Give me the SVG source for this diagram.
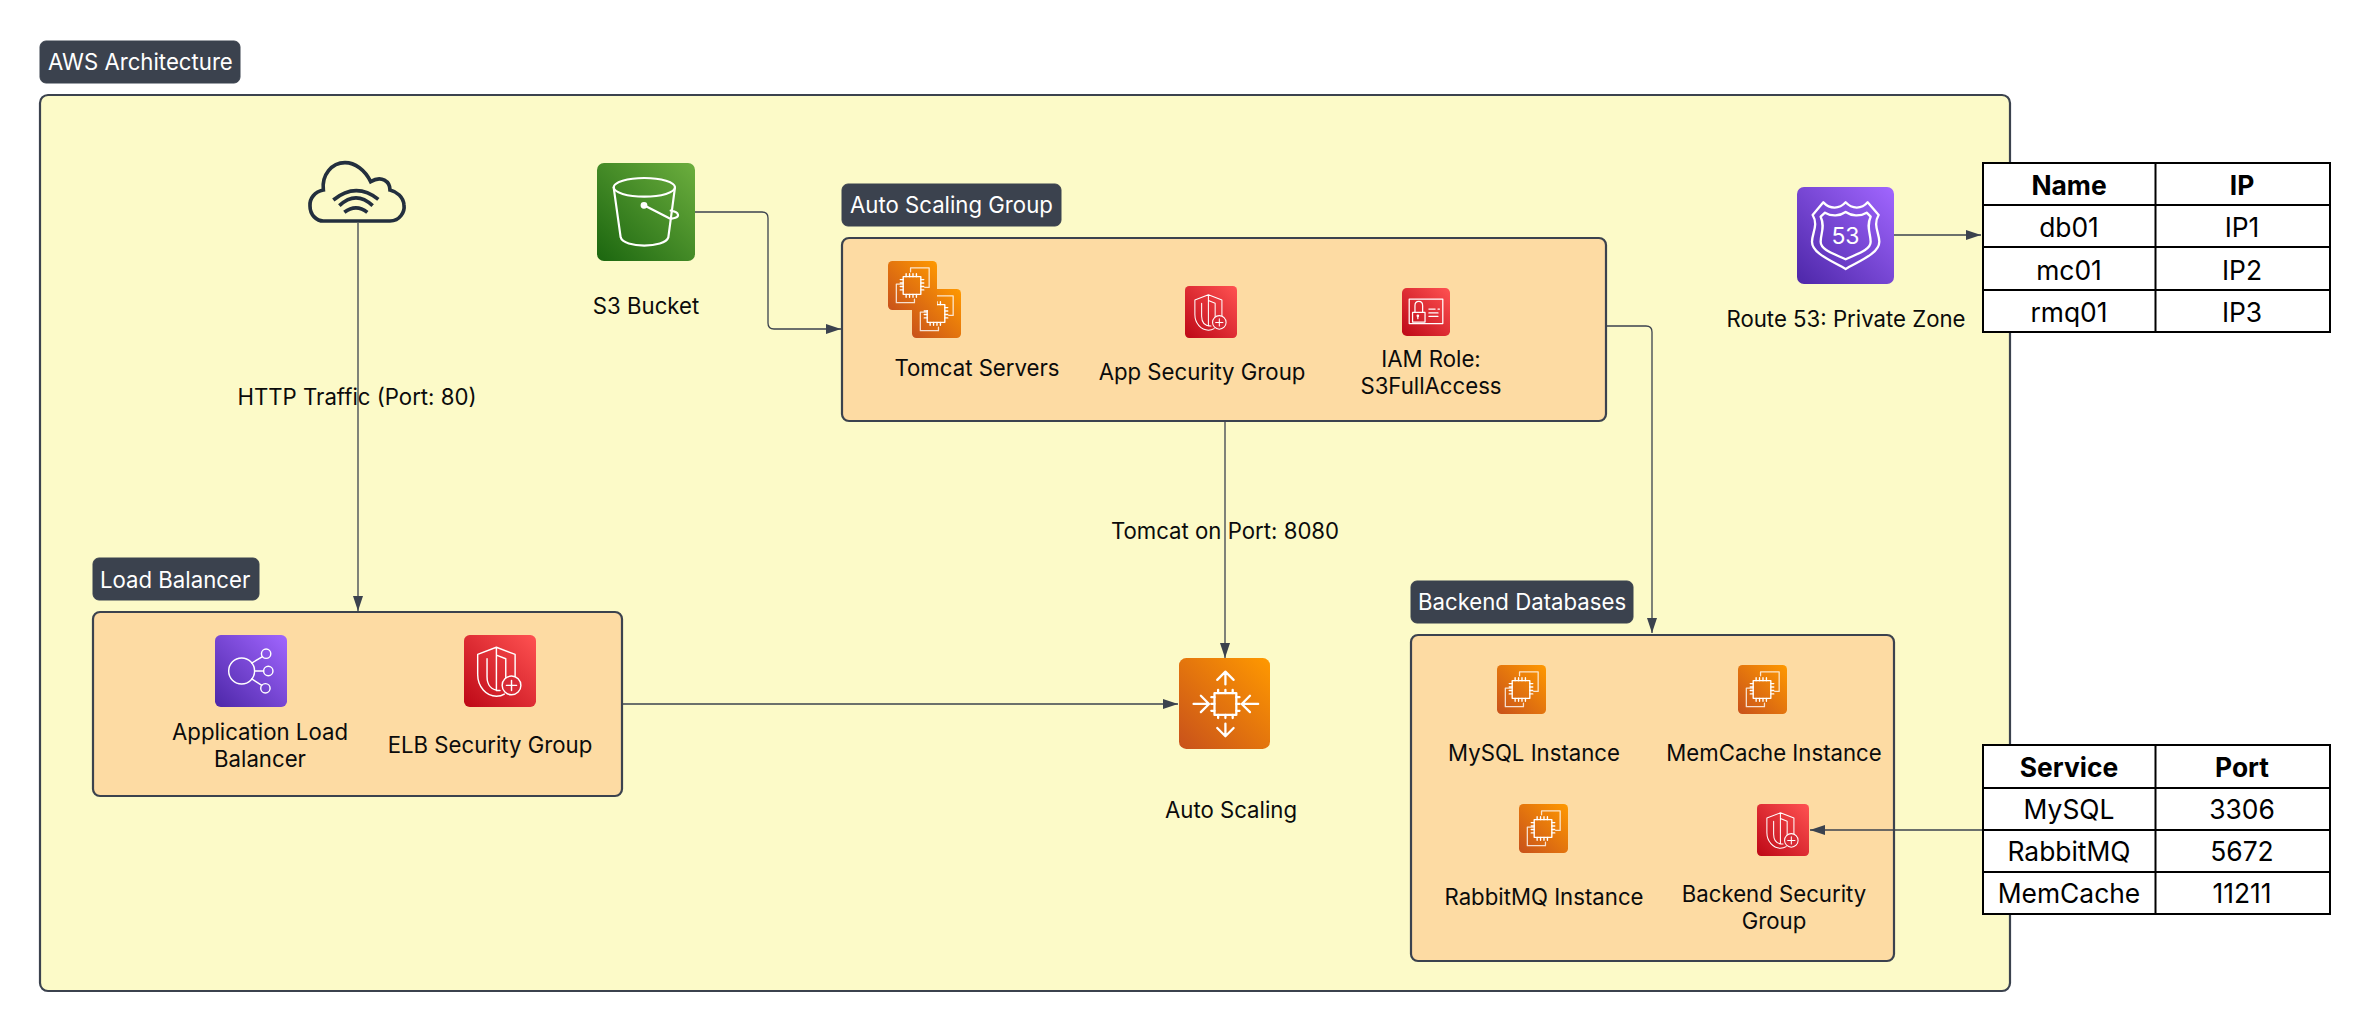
<svg xmlns="http://www.w3.org/2000/svg" xmlns:xlink="http://www.w3.org/1999/xlink" width="2369" height="1031" viewBox="0 0 2369 1031">
<style>
text{font-family:"Inter","Liberation Sans",sans-serif;font-size:22.2px;fill:#0b0b0b;text-anchor:middle}
.tag rect{fill:#3b424e;stroke:#3b424e;stroke-width:1}
.tag text{fill:#fff;text-anchor:start}
.frame{fill:#fcfac8;stroke:#3b424e;stroke-width:2.2}
.sub{fill:#fddba3;stroke:#3b424e;stroke-width:2.2}
.conn path{fill:none;stroke:#3b424e;stroke-width:1.3;marker-end:url(#arrow)}
.ic{fill:none;stroke:#fff;stroke-width:2;stroke-linejoin:round;stroke-linecap:round}
.tbl rect{fill:#fff;stroke:#000;stroke-width:2}
.tbl path{fill:none;stroke:#000;stroke-width:2}
.tbl text{font-size:26.4px;fill:#000}
.tbl .h{font-weight:700}
</style>
<defs>
<marker id="arrow" markerUnits="userSpaceOnUse" markerWidth="16" markerHeight="12" refX="15" refY="5" orient="auto"><path d="M0 0L15 5L0 10z" fill="#3b424e"/></marker>
<linearGradient id="gO" x1="0" y1="1" x2="1" y2="0"><stop offset="0" stop-color="#c8511b"/><stop offset="1" stop-color="#f90"/></linearGradient>
<linearGradient id="gR" x1="0" y1="1" x2="1" y2="0"><stop offset="0" stop-color="#bd0816"/><stop offset="1" stop-color="#ff5252"/></linearGradient>
<linearGradient id="gP" x1="0" y1="1" x2="1" y2="0"><stop offset="0" stop-color="#4d27a8"/><stop offset="1" stop-color="#a166ff"/></linearGradient>
<linearGradient id="gG" x1="0" y1="1" x2="1" y2="0"><stop offset="0" stop-color="#1b660f"/><stop offset="1" stop-color="#6cae3e"/></linearGradient>
<symbol id="ec2" viewBox="0 0 100 100">
<rect width="100" height="100" rx="9" fill="url(#gO)"/>
<g class="ic" opacity=".8" style="stroke-width:2.6"><path d="M46 22V14H84V54H75M30 47H17V85H54V78"/></g>
<g class="ic" style="stroke-width:2.8"><rect x="31" y="32" width="36" height="36"/><path d="M37 32V26M44 32V26M51 32V26M58 32V26M37 68V74M44 68V74M51 68V74M58 68V74M31 38H25M31 45H25M31 52H25M31 59H25M67 38H73M67 45H73M67 52H73M67 59H73"/></g>
</symbol>
<symbol id="shield" viewBox="0 0 100 100">
<rect width="100" height="100" rx="8" fill="url(#gR)"/>
<g class="ic"><path d="M45 17L71 27V57M45 17L19 27V55C19 72 31 85 45 85C49 85 53 84 56 82M32 33V58C32 68 37 77 50 77M45 17V77M45 28L58 33V62"/><circle cx="66" cy="70" r="13" fill="#d72b36"/><path d="M66 63V77M59 70H73"/></g>
</symbol>
<symbol id="iam" viewBox="0 0 100 100">
<rect width="100" height="100" rx="10" fill="url(#gR)"/>
<g class="ic" style="stroke-width:2.6"><rect x="15" y="23" width="70" height="51"/><rect x="22" y="51" width="26" height="20"/><path d="M27 51V37C27 25 43 25 43 37V51M56 44H69M75 44H78M56 52H75M56 59H75M33 58V64"/><circle cx="33" cy="58" r="1.5"/></g>
</symbol>
<symbol id="alb" viewBox="0 0 100 100">
<rect width="100" height="100" rx="8" fill="url(#gP)"/>
<g class="ic"><circle cx="37" cy="50" r="18"/><circle cx="71" cy="26" r="6.5"/><circle cx="74" cy="50" r="6.5"/><circle cx="70" cy="74" r="6.5"/><path d="M51 39L66 30M55 50H67.500M51 61L65 70"/></g>
</symbol>
<symbol id="asg" viewBox="0 0 100 100">
<rect width="100" height="100" rx="8" fill="url(#gO)"/>
<g class="ic" style="stroke-width:2.5"><rect x="39" y="38.500" width="24" height="24"/><path d="M43 38.500V35M51 38.500V35M59 38.500V35M43 62.500V66M51 62.500V66M59 62.500V66M39 43H35.500M39 50.500H35.500M39 58H35.500M63 43H66.500M63 50.500H66.500M63 58H66.500M51 29V15M42 24L51 15L60 24M51 72V86M42 77L51 86L60 77M32 50.500H16M24 41.500L33 50.500L24 59.500M87 50.500H70M78 41.500L69 50.500L78 59.500"/></g>
</symbol>
</defs>
<g id="aws-architecture">
<rect class="frame" x="40" y="95" width="1970" height="896" rx="8"/>
<g class="tag"><rect x="40" y="41" width="200" height="42" rx="6"/><text x="48" y="70">AWS Architecture</text></g>
</g>
<g id="internet">
<path transform="translate(280 140) scale(.3333)" d="M130 243H330C360 243 375 215 372 195C370 170 350 155 330 150C330 125 305 105 272 125C255 90 225 68 195 68C155 68 125 105 130 150C105 155 88 175 90 198C90 225 110 243 130 243ZM160 180Q228 125 295 178M178 197Q228 150 278 197M193 217Q228 190 262 217" fill="none" stroke="#232f3e" stroke-width="11"/>
</g>
<g id="s3-bucket">
<rect x="597" y="163" width="98" height="98" rx="7" fill="url(#gG)"/>
<g class="ic" transform="translate(580 150) scale(.3333)" style="stroke-width:6.500"><ellipse cx="193" cy="112" rx="92" ry="28"/><path d="M101 112L122 262C130 295 255 295 265 262L285 112M192 166L268 205C280 208 296 202 294 194C292 186 280 183 272 182"/><circle cx="192" cy="166" r="7" fill="#fff"/></g>
<text x="646" y="314">S3 Bucket</text>
</g>
<g id="auto-scaling-group">
<rect class="sub" x="842" y="238" width="764" height="183" rx="7"/>
<g class="tag"><rect x="842" y="184" width="219" height="42" rx="6"/><text x="850" y="213">Auto Scaling Group</text></g>
<g id="tomcat-servers"><use href="#ec2" x="912" y="289" width="49" height="49"/><use href="#ec2" x="888" y="261" width="49" height="49"/><text x="977" y="376">Tomcat Servers</text></g>
<g id="app-security-group"><use href="#shield" x="1185" y="286" width="52" height="52"/><text x="1202" y="380">App Security Group</text></g>
<g id="iam-role"><use href="#iam" x="1402" y="288" width="48" height="48"/><text x="1431" y="367">IAM Role:</text><text x="1431" y="394">S3FullAccess</text></g>
</g>
<g id="route-53">
<rect x="1797" y="187" width="97" height="97" rx="7" fill="url(#gP)"/>
<g class="ic" transform="translate(1780 170) scale(.3333)" style="stroke-width:7"><path d="M130 97C150 118 178 118 197 97C216 118 245 118 263 97L296 135C278 165 298 190 298 215C298 250 240 272 197 297C154 272 96 250 96 215C96 190 116 165 98 135Z"/><path d="M135 128C155 140 180 138 197 126C214 138 240 140 260 128L272 140C258 170 272 190 272 215C272 240 230 252 197 268C164 252 122 240 122 215C122 190 136 170 122 140Z"/></g>
<text x="1845.500" y="244" style="font-size:23px;fill:#fff">53</text>
<text x="1846" y="327">Route 53: Private Zone</text>
</g>
<g id="load-balancer">
<rect class="sub" x="93" y="612" width="529" height="184" rx="7"/>
<g class="tag"><rect x="93" y="558" width="166" height="42" rx="6"/><text x="100" y="588">Load Balancer</text></g>
<g id="application-load-balancer"><use href="#alb" x="215" y="635" width="72" height="72"/><text x="260" y="740">Application Load</text><text x="260" y="767">Balancer</text></g>
<g id="elb-security-group"><use href="#shield" x="464" y="635" width="72" height="72"/><text x="490" y="753">ELB Security Group</text></g>
</g>
<g id="auto-scaling">
<use href="#asg" x="1179" y="658" width="91" height="91"/>
<text x="1231" y="818">Auto Scaling</text>
</g>
<g id="backend-databases">
<rect class="sub" x="1411" y="635" width="483" height="326" rx="7"/>
<g class="tag"><rect x="1411" y="581" width="222" height="42" rx="6"/><text x="1418" y="610">Backend Databases</text></g>
<g id="mysql-instance"><use href="#ec2" x="1497" y="665" width="49" height="49"/><text x="1534" y="761">MySQL Instance</text></g>
<g id="memcache-instance"><use href="#ec2" x="1738" y="665" width="49" height="49"/><text x="1774" y="761">MemCache Instance</text></g>
<g id="rabbitmq-instance"><use href="#ec2" x="1519" y="804" width="49" height="49"/><text x="1544" y="905">RabbitMQ Instance</text></g>
<g id="backend-security-group"><use href="#shield" x="1757" y="804" width="52" height="52"/><text x="1774" y="902">Backend Security</text><text x="1774" y="929">Group</text></g>
</g>
<g id="connectors" class="conn">
<path d="M358 223V611"/>
<path d="M695 212H762Q768 212 768 218V323Q768 329 774 329H841"/>
<path d="M1225 422V658"/>
<path d="M622 704H1178"/>
<path d="M1606 326H1646Q1652 326 1652 332V633"/>
<path d="M1894 235H1981"/>
<path d="M1982 830H1810"/>
</g>
<g id="edge-labels">
<text x="357" y="405">HTTP Traffic (Port: 80)</text>
<text x="1225" y="539">Tomcat on Port: 8080</text>
</g>
<g id="dns-table" class="tbl">
<rect x="1983" y="163" width="347" height="169"/>
<path d="M2155.500 163V332M1983 205H2330M1983 247H2330M1983 290H2330"/>
<text class="h" x="2069" y="195">Name</text><text class="h" x="2242" y="195">IP</text>
<text x="2069" y="237">db01</text><text x="2242" y="237">IP1</text>
<text x="2069" y="280">mc01</text><text x="2242" y="280">IP2</text>
<text x="2069" y="322">rmq01</text><text x="2242" y="322">IP3</text>
</g>
<g id="ports-table" class="tbl">
<rect x="1983" y="745" width="347" height="169"/>
<path d="M2155.500 745V914M1983 788H2330M1983 830H2330M1983 872H2330"/>
<text class="h" x="2069" y="777">Service</text><text class="h" x="2242" y="777">Port</text>
<text x="2069" y="819">MySQL</text><text x="2242" y="819">3306</text>
<text x="2069" y="861">RabbitMQ</text><text x="2242" y="861">5672</text>
<text x="2069" y="903">MemCache</text><text x="2242" y="903">11211</text>
</g>
</svg>
